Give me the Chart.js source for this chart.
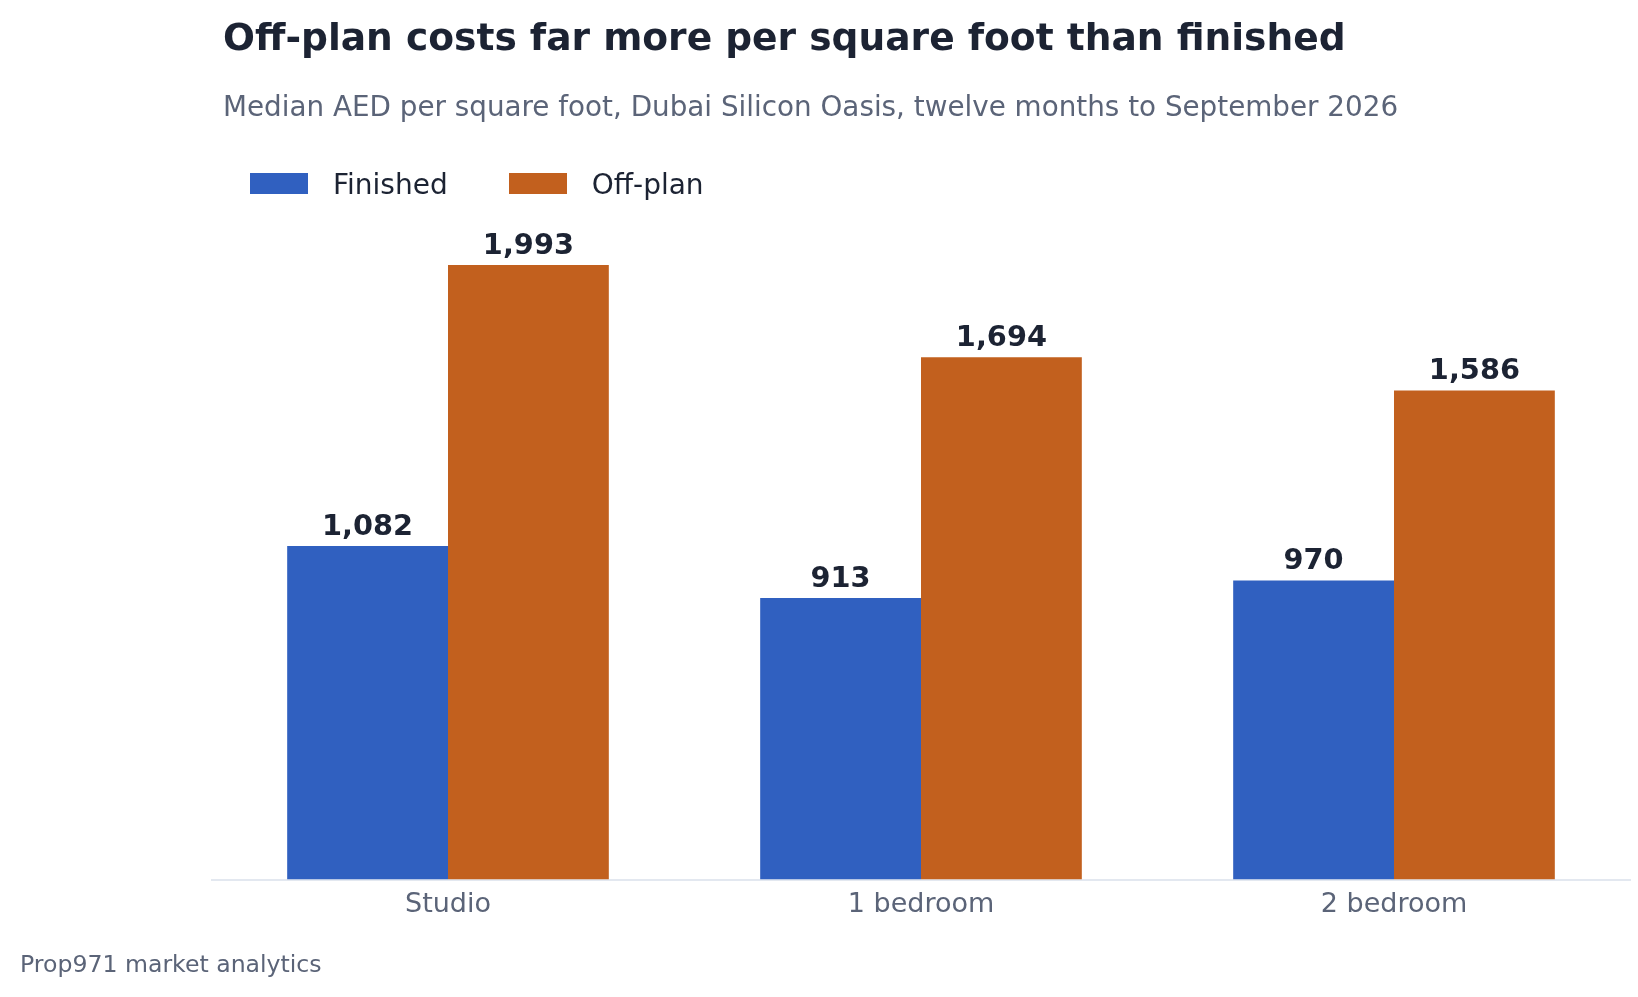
<!DOCTYPE html>
<html>
<head>
<meta charset="utf-8">
<script src="https://cdn.jsdelivr.net/npm/chart.js@4.4.1/dist/chart.umd.min.js"></script>
<style>
html,body{margin:0;padding:0;background:#ffffff;}
#wrap{position:relative;width:1638px;height:997px;overflow:hidden;font-family:'DejaVu Sans',sans-serif;background:#ffffff;}
#chart{position:absolute;left:0;top:0;}
.t{position:absolute;white-space:nowrap;line-height:1;margin:0;}
#title{left:223px;top:18.5px;font-size:37.6px;font-weight:bold;color:#1c2333;}
#subtitle{left:223px;top:93px;font-size:27.8px;color:#5b6478;}
#legend{position:absolute;left:250px;top:171.3px;display:flex;gap:61px;}
.li{display:flex;align-items:flex-start;}
.sw{width:58px;height:21px;margin-top:1.7px;margin-right:25px;}
.lt{font-size:28px;line-height:1;color:#1c2333;white-space:nowrap;}
#footer{left:20px;top:953px;font-size:23.6px;color:#5b6478;}
</style>
</head>
<body>
<div id="wrap">
  <canvas id="chart" width="1638" height="997"></canvas>
  <div id="title" class="t"></div>
  <div id="subtitle" class="t"></div>
  <div id="legend"></div>
  <div id="footer" class="t"></div>
</div>
<script>
// ---- data ----
const categories = ['Studio', '1 bedroom', '2 bedroom'];
const seriesNames = ['Finished', 'Off-plan'];
const finishedValues = [1082, 913, 970];
const offPlanValues = [1993, 1694, 1586];
const yAxisMax = 2000;

// ---- text ----
const titleText = 'Off-plan costs far more per square foot than finished';
const subtitleText = 'Median AED per square foot, Dubai Silicon Oasis, twelve months to September 2026';
const footerText = 'Prop971 market analytics';

// ---- style ----
const seriesColors = ['#3060c0', '#c2601e'];
const darkText = '#1c2333';
const mutedText = '#5b6478';
const axisLineColor = '#e3e8f0';

document.getElementById('title').textContent = titleText;
document.getElementById('subtitle').textContent = subtitleText;
document.getElementById('footer').textContent = footerText;

const valueLabels = {
  id: 'valueLabels',
  afterDatasetsDraw(chart) {
    const ctx = chart.ctx;
    ctx.save();
    ctx.font = 'bold 28.8px "DejaVu Sans"';
    ctx.fillStyle = darkText;
    ctx.textAlign = 'center';
    ctx.textBaseline = 'alphabetic';
    chart.data.datasets.forEach((ds, i) => {
      chart.getDatasetMeta(i).data.forEach((bar, j) => {
        ctx.fillText(ds.data[j].toLocaleString('en-US'), bar.x, bar.y - 11);
      });
    });
    ctx.restore();
  }
};

const chart = new Chart(document.getElementById('chart'), {
  type: 'bar',
  data: {
    labels: categories,
    datasets: [
      { label: seriesNames[0], data: finishedValues, backgroundColor: seriesColors[0], borderWidth: 0 },
      { label: seriesNames[1], data: offPlanValues, backgroundColor: seriesColors[1], borderWidth: 0 }
    ]
  },
  options: {
    responsive: false,
    animation: false,
    devicePixelRatio: 1,
    layout: { padding: { left: 211.5, right: 7.5, top: 262.8, bottom: 66 } },
    datasets: { bar: { categoryPercentage: 0.68, barPercentage: 1.0 } },
    plugins: {
      legend: { display: false },
      title: { display: false },
      tooltip: { enabled: false }
    },
    scales: {
      x: {
        grid: { display: false, drawTicks: false },
        border: { display: true, color: axisLineColor, width: 2 },
        ticks: { color: mutedText, padding: 9.5, font: { family: 'DejaVu Sans', size: 27 } }
      },
      y: {
        display: false,
        min: 0,
        max: yAxisMax
      }
    }
  },
  plugins: [valueLabels]
});

// HTML legend built from the chart's datasets
const legendEl = document.getElementById('legend');
chart.data.datasets.forEach(ds => {
  const item = document.createElement('div');
  item.className = 'li';
  const sw = document.createElement('span');
  sw.className = 'sw';
  sw.style.background = ds.backgroundColor;
  const tx = document.createElement('span');
  tx.className = 'lt';
  tx.textContent = ds.label;
  item.appendChild(sw);
  item.appendChild(tx);
  legendEl.appendChild(item);
});
</script>
</body>
</html>
